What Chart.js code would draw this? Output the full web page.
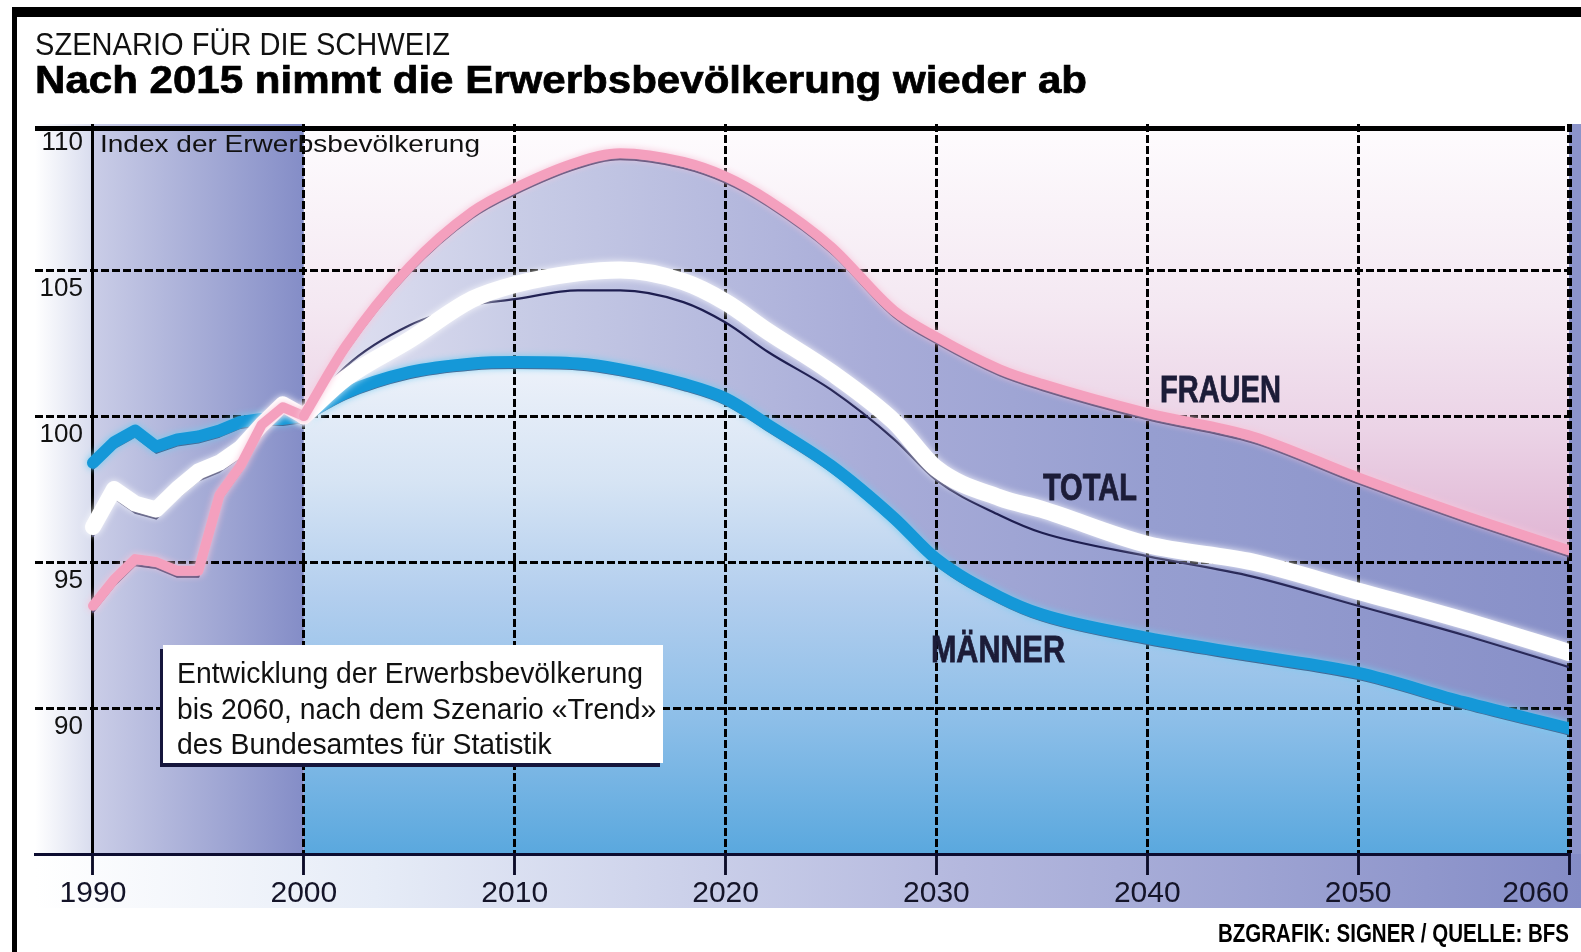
<!DOCTYPE html>
<html>
<head>
<meta charset="utf-8">
<script src="https://cdn.jsdelivr.net/npm/chart.js@4.4.1/dist/chart.umd.min.js"></script>
<style>
  html, body { margin: 0; padding: 0; background: #fff; }
  body { width: 1581px; height: 952px; position: relative; overflow: hidden; font-family: "Liberation Sans", Arial, sans-serif; }
  canvas { position: absolute; left: 0; top: 0; }
  .bar { position: absolute; background: #000; z-index: 3; }
  .txt { position: absolute; white-space: nowrap; line-height: 1; transform-origin: 0 0; z-index: 4; }
  #kicker { left: 35px; top: 28px; font-size: 32px; color: #111; }
  #title { left: 35px; top: 61px; font-size: 38px; font-weight: bold; color: #000; -webkit-text-stroke: 0.7px #000; }
  #unit { left: 100px; top: 132px; font-size: 24px; color: #111; }
  #credit { left: 1218px; top: 920px; font-size: 26px; font-weight: bold; color: #000; }
  #note { position: absolute; left: 163px; top: 645px; width: 500px; height: 118px; background: #fff;
          box-shadow: -3px 4px 0 #16163c; z-index: 4; }
  #note .txt { left: 14px; font-size: 30px; color: #111; }
</style>
</head>
<body>
<div class="bar" style="left:12px;top:7px;width:1569px;height:10px"></div>
<div class="bar" style="left:12px;top:7px;width:5px;height:945px"></div>
<div id="kicker" class="txt">SZENARIO FÜR DIE SCHWEIZ</div>
<div id="title" class="txt">Nach 2015 nimmt die Erwerbsbevölkerung wieder ab</div>
<div id="unit" class="txt">Index der Erwerbsbevölkerung</div>
<div id="note">
  <div class="txt" id="n1" style="top:13px">Entwicklung der Erwerbsbevölkerung</div>
  <div class="txt" id="n2" style="top:49px">bis 2060, nach dem Szenario «Trend»</div>
  <div class="txt" id="n3" style="top:84px">des Bundesamtes für Statistik</div>
</div>
<div id="credit" class="txt">BZGRAFIK: SIGNER / QUELLE: BFS</div>
<canvas id="chart" width="1581" height="952"></canvas>
<script>
// Erwerbsbevölkerung, Index 2000 = 100
const histYears = [1990, 1991, 1992, 1993, 1994, 1995, 1996, 1997, 1998, 1999, 2000];
const histFrauen = [93.5, 94.4, 95.1, 95.0, 94.7, 94.7, 97.3, 98.3, 99.7, 100.3, 100.0];
const histTotal = [96.2, 97.5, 97.0, 96.8, 97.5, 98.1, 98.4, 98.9, 99.7, 100.4, 100.0];
const histMaenner = [98.4, 99.1, 99.5, 98.95, 99.2, 99.3, 99.5, 99.8, 99.9, 99.9, 100.0];

const projYears = [2000, 2002, 2005, 2008, 2010, 2013, 2015, 2018, 2020, 2022, 2025, 2028, 2030, 2033, 2035, 2040, 2045, 2050, 2055, 2060];
const projFrauen = [100.0, 102.4, 105.1, 107.0, 107.8, 108.7, 109.0, 108.7, 108.2, 107.4, 105.8, 103.6, 102.7, 101.6, 101.1, 100.1, 99.3, 97.9, 96.6, 95.4];
const projTotal = [100.0, 101.3, 102.6, 104.0, 104.5, 104.9, 105.0, 104.6, 103.9, 102.9, 101.5, 99.8, 98.2, 97.2, 96.8, 95.6, 95.0, 94.0, 93.0, 91.9];
const projTotalLine = [100.0, 101.7, 103.1, 103.8, 104.0, 104.3, 104.3, 103.9, 103.2, 102.2, 100.9, 99.2, 97.8, 96.6, 96.0, 95.2, 94.5, 93.5, 92.5, 91.4];
const projMaenner = [100.0, 100.8, 101.5, 101.8, 101.85, 101.8, 101.6, 101.1, 100.6, 99.7, 98.3, 96.5, 95.1, 93.8, 93.2, 92.4, 91.8, 91.2, 90.2, 89.3];

const xTicks = [1990, 2000, 2010, 2020, 2030, 2040, 2050, 2060];
const yTicks = [90, 95, 100, 105, 110];

const SANS = '"Liberation Sans", Arial, sans-serif';
const DARK = '#1e1e50';

function fit(el, width) {
  const w = el.getBoundingClientRect().width;
  el.style.transform = `scaleX(${width / w})`;
}
fit(document.getElementById('kicker'), 415);
fit(document.getElementById('title'), 1052);
fit(document.getElementById('unit'), 380);
fit(document.getElementById('credit'), 351);
(function () {
  const n1 = document.getElementById('n1');
  const s = 466 / n1.getBoundingClientRect().width;
  ['n1', 'n2', 'n3'].forEach(id => document.getElementById(id).style.transform = `scaleX(${s})`);
})();

const pts = (xs, ys) => xs.map((x, i) => ({ x, y: ys[i] }));

function lavender(context) {
  const chart = context.chart, a = chart.chartArea;
  if (!a) return '#a8acd8';
  const x0 = chart.scales.x.getPixelForValue(2000);
  const g = chart.ctx.createLinearGradient(x0, 0, a.right, 0);
  g.addColorStop(0, '#e2e2f2');
  g.addColorStop(0.17, '#c8cce6');
  g.addColorStop(0.45, '#a8acd8');
  g.addColorStop(0.67, '#969ed0');
  g.addColorStop(1, '#8890c8');
  return g;
}

function skyBlue(context) {
  const chart = context.chart, a = chart.chartArea;
  if (!a) return '#a0c4ea';
  const g = chart.ctx.createLinearGradient(0, a.top, 0, a.bottom);
  g.addColorStop(0, '#f8f9fd');
  g.addColorStop(0.32, '#eef2fa');
  g.addColorStop(0.49, '#d6e4f4');
  g.addColorStop(0.65, '#b2ceee');
  g.addColorStop(0.82, '#8cbee8');
  g.addColorStop(1, '#5aa8de');
  return g;
}

const base = { pointRadius: 0, borderJoinStyle: 'round', borderCapStyle: 'round', fill: false };

const datasets = [
  // 0-2 projections (smooth), 0 fills down to 2, 2 fills to the bottom
  { ...base, label: 'Frauen', data: pts(projYears, projFrauen), borderColor: '#f4a0be', borderWidth: 10,
    cubicInterpolationMode: 'monotone', order: 1, fill: 2, backgroundColor: lavender, glow: '#f8c6da' },
  { ...base, label: 'Total', data: pts(projYears, projTotal), borderColor: '#ffffff', borderWidth: 17,
    cubicInterpolationMode: 'monotone', order: 2, glow: 'rgba(255,255,255,0.9)' },
  { ...base, label: 'Männer', data: pts(projYears, projMaenner), borderColor: '#1598d8', borderWidth: 12,
    cubicInterpolationMode: 'monotone', order: 3, fill: 'start', backgroundColor: skyBlue, glow: '#72cdf2' },
  // 3-5 history
  { ...base, label: 'Frauen 1990-2000', data: pts(histYears, histFrauen), borderColor: '#f4a0be', borderWidth: 10, order: 1, glow: '#f8c6da' },
  { ...base, label: 'Total 1990-2000', data: pts(histYears, histTotal), borderColor: '#ffffff', borderWidth: 16, order: 2, glow: 'rgba(255,255,255,0.9)' },
  { ...base, label: 'Männer 1990-2000', data: pts(histYears, histMaenner), borderColor: '#1598d8', borderWidth: 12, order: 3, glow: '#72cdf2' },
  // 6-11 thin dark contour lines
  { ...base, data: pts(projYears, projFrauen), borderColor: DARK, borderWidth: 2.2, cubicInterpolationMode: 'monotone', order: 10, shiftY: 6 },
  { ...base, data: pts(projYears, projTotalLine), borderColor: DARK, borderWidth: 2.2, cubicInterpolationMode: 'monotone', order: 10 },
  { ...base, data: pts(projYears, projMaenner), borderColor: DARK, borderWidth: 2.2, cubicInterpolationMode: 'monotone', order: 10, shiftY: 6 },
  { ...base, data: pts(histYears, histFrauen), borderColor: DARK, borderWidth: 2.2, order: 10, shiftY: 6 },
  { ...base, data: pts(histYears, histTotal), borderColor: DARK, borderWidth: 2.2, order: 10, shiftY: 9 },
  { ...base, data: pts(histYears, histMaenner), borderColor: DARK, borderWidth: 2.2, order: 10, shiftY: 6 },
];

const backdrop = {
  id: 'backdrop',
  beforeDraw(chart) {
    const { ctx, chartArea: a, scales: { x } } = chart;
    const x1990 = x.getPixelForValue(1990), x2000 = x.getPixelForValue(2000);
    const W = chart.width, h = a.bottom - a.top;
    let g = ctx.createLinearGradient(a.left, 0, W, 0);
    g.addColorStop(0, '#ffffff');
    g.addColorStop(0.22, '#e6ecf7');
    g.addColorStop(0.6, '#b4b8de');
    g.addColorStop(1, '#848cc6');
    ctx.fillStyle = g;
    ctx.fillRect(a.left, a.bottom, W - a.left, 54);

    g = ctx.createLinearGradient(a.left, 0, x1990, 0);
    g.addColorStop(0, '#ffffff');
    g.addColorStop(1, '#d8dcee');
    ctx.fillStyle = g;
    ctx.fillRect(a.left, a.top, x1990 - a.left, h);

    g = ctx.createLinearGradient(x1990, 0, x2000, 0);
    g.addColorStop(0, '#cacde7');
    g.addColorStop(1, '#848dc7');
    ctx.fillStyle = g;
    ctx.fillRect(x1990, a.top, x2000 - x1990, h);

    g = ctx.createLinearGradient(0, a.top, 0, a.bottom);
    g.addColorStop(0, '#fefcfe');
    g.addColorStop(0.25, '#f4e8f2');
    g.addColorStop(0.42, '#ebd3e6');
    g.addColorStop(0.6, '#dfb2d2');
    g.addColorStop(1, '#d6a6ca');
    ctx.fillStyle = g;
    ctx.fillRect(x2000, a.top, a.right - x2000, h);

    ctx.fillStyle = '#8c94ca';
    ctx.fillRect(a.right, a.top, W - a.right, h);
  },
  beforeDatasetsDraw(chart) {
    // grid again on top of the fills, below the lines
    chart.scales.y.drawGrid(chart.chartArea);
    chart.scales.x.drawGrid(chart.chartArea);
    chart.scales.x.drawBorder();
  },
  beforeDatasetDraw(chart, args) {
    const ds = chart.data.datasets[args.index];
    const ctx = chart.ctx;
    ctx.save();
    if (ds.shiftY) ctx.translate(0, ds.shiftY);
    if (ds.glow) { ctx.shadowColor = ds.glow; ctx.shadowBlur = 7; }
  },
  afterDatasetDraw(chart) {
    chart.ctx.restore();
  },
  afterDraw(chart) {
    const { ctx, chartArea: a, scales: { x, y } } = chart;
    ctx.fillStyle = '#000';
    ctx.fillRect(a.left, a.top + 2, a.right - 4 - a.left, 5);

    const labels = [
      { text: 'FRAUEN', year: 2040.6, value: 100.48, width: 121 },
      { text: 'TOTAL', year: 2035.05, value: 97.12, width: 94 },
      { text: 'MÄNNER', year: 2029.74, value: 91.58, width: 134 },
    ];
    ctx.fillStyle = '#1c1c38';
    ctx.strokeStyle = '#1c1c38';
    ctx.lineWidth = 0.8;
    ctx.font = `bold 37px ${SANS}`;
    ctx.textBaseline = 'alphabetic';
    ctx.textAlign = 'left';
    labels.forEach(l => {
      const w = ctx.measureText(l.text).width;
      ctx.save();
      ctx.translate(x.getPixelForValue(l.year), y.getPixelForValue(l.value));
      ctx.scale(l.width / w, 1);
      ctx.fillText(l.text, 0, 0);
      ctx.strokeText(l.text, 0, 0);
      ctx.restore();
    });
  }
};

// right edge of the y labels sits at x = 81
const measure = document.createElement('canvas').getContext('2d');
measure.font = `26px ${SANS}`;
const yLabelPad = 46 - measure.measureText('110').width;

new Chart(document.getElementById('chart'), {
  type: 'line',
  data: { datasets },
  plugins: [backdrop],
  options: {
    responsive: false,
    animation: false,
    layout: { padding: { left: 35, right: 12, top: 124, bottom: 0 } },
    plugins: {
      legend: { display: false },
      tooltip: { enabled: false },
      filler: { drawTime: 'beforeDatasetsDraw' },
    },
    scales: {
      x: {
        type: 'linear',
        min: 1987.25,
        max: 2060,
        afterBuildTicks: s => { s.ticks = [{ value: s.min }, ...xTicks.map(v => ({ value: v }))]; },
        afterFit: s => { s.height = 98; s.paddingLeft = 0; s.paddingRight = 0; },
        ticks: {
          autoSkip: false, maxRotation: 0, minRotation: 0, align: 'inner', padding: 1,
          color: '#141428', font: { family: SANS, size: 30 },
          callback: v => (xTicks.includes(v) ? String(v) : ''),
        },
        grid: {
          color: c => (c.tick && c.tick.value < 1990 ? 'rgba(0,0,0,0)' : '#000'),
          lineWidth: c => (c.tick && c.tick.value === 2060 ? 5 : 3),
          tickColor: c => (c.tick && c.tick.value < 1990 ? 'rgba(0,0,0,0)' : '#0c0c28'),
          tickWidth: 2.5,
          tickBorderDash: [],
          tickLength: 21,
        },
        border: {
          display: true, color: '#0c0c30', width: 3,
          dash: c => (c.tick && c.tick.value === 1990 ? [] : [8, 3]),
        },
      },
      y: {
        type: 'linear',
        min: 85,
        max: 110,
        afterBuildTicks: s => { s.ticks = yTicks.map(v => ({ value: v })); },
        afterFit: s => { s.width = 0; s.paddingTop = 0; s.paddingBottom = 0; },
        ticks: {
          mirror: true, crossAlign: 'far', padding: yLabelPad, labelOffset: 19,
          color: '#111', font: { family: SANS, size: 26 },
        },
        grid: {
          color: c => (c.tick && c.tick.value === 110 ? 'rgba(0,0,0,0)' : '#000'),
          lineWidth: 3,
          drawTicks: false,
        },
        border: { display: false, dash: [8, 3] },
      },
    },
  },
});
</script>
</body>
</html>
